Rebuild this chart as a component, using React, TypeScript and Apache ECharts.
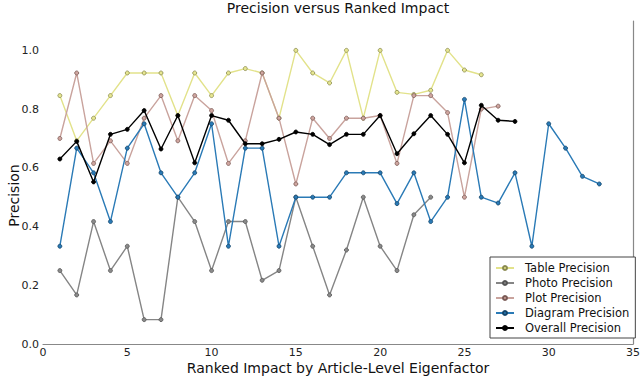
import React, { useEffect, useRef } from "react";
import * as echarts from "echarts";

const tablePrecision = [0.846, 0.692, 0.769, 0.846, 0.923, 0.923, 0.923, 0.778, 0.923, 0.846, 0.923, 0.938, 0.923, 0.769, 1.0, 0.923, 0.889, 1.0, 0.769, 1.0, 0.857, 0.85, 0.864, 1.0, 0.933, 0.917];
const photoPrecision = [0.25, 0.167, 0.417, 0.25, 0.333, 0.083, 0.083, 0.5, 0.417, 0.25, 0.417, 0.417, 0.217, 0.25, 0.5, 0.333, 0.167, 0.32, 0.5, 0.333, 0.25, 0.44, 0.5];
const plotPrecision = [0.7, 0.923, 0.615, 0.692, 0.615, 0.769, 0.846, 0.692, 0.846, 0.795, 0.615, 0.692, 0.923, 0.769, 0.545, 0.769, 0.7, 0.769, 0.769, 0.778, 0.615, 0.846, 0.846, 0.788, 0.5, 0.8, 0.81];
const diagramPrecision = [0.333, 0.667, 0.583, 0.417, 0.667, 0.75, 0.583, 0.5, 0.583, 0.75, 0.333, 0.667, 0.667, 0.333, 0.5, 0.5, 0.5, 0.583, 0.583, 0.583, 0.478, 0.583, 0.417, 0.5, 0.833, 0.5, 0.48, 0.583, 0.333, 0.75, 0.667, 0.571, 0.545];
const overallPrecision = [0.63, 0.69, 0.552, 0.714, 0.731, 0.795, 0.664, 0.778, 0.617, 0.778, 0.762, 0.682, 0.682, 0.697, 0.722, 0.714, 0.679, 0.714, 0.714, 0.778, 0.648, 0.716, 0.778, 0.714, 0.617, 0.813, 0.762, 0.758];

const xTicks = [0, 5, 10, 15, 20, 25, 30, 35];
const yTicks = [0.0, 0.2, 0.4, 0.6, 0.8, 1.0];

const toPairs = (arr: number[]) => arr.map((v, i) => [i + 1, v]);

export default function App() {
  const ref = useRef<HTMLDivElement>(null);
  useEffect(() => {
    if (!ref.current) return;
    const chart = echarts.init(ref.current, null, { renderer: "svg" });
    const font = "DejaVu Sans";
    const mk = (name: string, data: number[], line: string, fill: string, border: string, z: number) => ({
      name,
      type: "line",
      data: toPairs(data),
      symbol: "circle",
      symbolSize: 4,
      showSymbol: true,
      z,
      lineStyle: { color: line, width: 1.4 },
      itemStyle: { color: fill, borderColor: border, borderWidth: 0.8 },
      emphasis: { disabled: true },
    });
    chart.setOption({
      animation: false,
      textStyle: { fontFamily: font },
      grid: { left: 43, right: 7, top: 21, bottom: 38, containLabel: false, outerBoundsMode: "none" },
      graphic: [
        { type: "text", x: 338, y: 1, style: { text: "Precision versus Ranked Impact", font: `14px '${font}'`, fill: "#111", textAlign: "center" } },
        { type: "text", x: 338, y: 361, style: { text: "Ranked Impact by Article-Level Eigenfactor", font: `14px '${font}'`, fill: "#111", textAlign: "center" } },
      ],
      legend: {
        orient: "vertical",
        left: 490,
        top: 257,
        width: 133,
        padding: [5, 6, 4, 5],
        itemWidth: 18,
        itemHeight: 5,
        itemGap: 3,
        backgroundColor: "#fff",
        borderColor: "#444",
        borderWidth: 1,
        textStyle: { fontFamily: font, fontSize: 11.5, color: "#111", padding: [0, 0, 0, 6] },
        data: ["Table Precision", "Photo Precision", "Plot Precision", "Diagram Precision", "Overall Precision"],
      },
      xAxis: {
        type: "value",
        min: 0,
        max: 35,
        interval: 5,
        axisLine: { show: true, lineStyle: { color: "#888", width: 1.2 } },
        axisTick: { show: false },
        splitLine: { show: false },
        axisLabel: {
          fontSize: 11,
          color: "#222",
          margin: 3,
          formatter: (v: number) => (xTicks.includes(v) ? String(v) : ""),
        },
      },
      yAxis: [
        {
          type: "value",
          min: 0,
          max: 1.1,
          interval: 0.2,
          name: "Precision",
          nameLocation: "middle",
          nameRotate: 90,
          nameGap: 22,
          nameMoveOverlap: false,
          nameTextStyle: { fontFamily: font, fontSize: 14, color: "#111", padding: [0, 0, 0, -26] },
          axisLine: { show: false },
          axisTick: { show: false },
          splitLine: { show: false },
          axisLabel: {
            fontSize: 11,
            color: "#222",
            margin: 4,
            showMaxLabel: false,
            formatter: (v: number) => {
              const t = yTicks.find((y) => Math.abs(y - v) < 1e-6);
              return t === undefined ? "" : t.toFixed(1);
            },
          },
        },
        {
          type: "value",
          position: "right",
          min: 0,
          max: 1.1,
          axisLine: { show: true, lineStyle: { color: "#888", width: 1.2 } },
          axisTick: { show: false },
          axisLabel: { show: false },
          splitLine: { show: false },
        },
      ],
      series: [
        mk("Table Precision", tablePrecision, "#e2e28a", "#e6e690", "#8a8a50", 2),
        mk("Photo Precision", photoPrecision, "#858585", "#8a8a8a", "#555", 3),
        mk("Plot Precision", plotPrecision, "#c9a39d", "#cfa59f", "#7a5a55", 4),
        mk("Diagram Precision", diagramPrecision, "#2a7ab6", "#2a7ab6", "#14456a", 5),
        mk("Overall Precision", overallPrecision, "#000", "#000", "#000", 6),
      ],
    });
    return () => chart.dispose();
  }, []);
  return <div ref={ref} style={{ width: 640, height: 382, position: "absolute", left: 0, top: 0 }} />;
}
